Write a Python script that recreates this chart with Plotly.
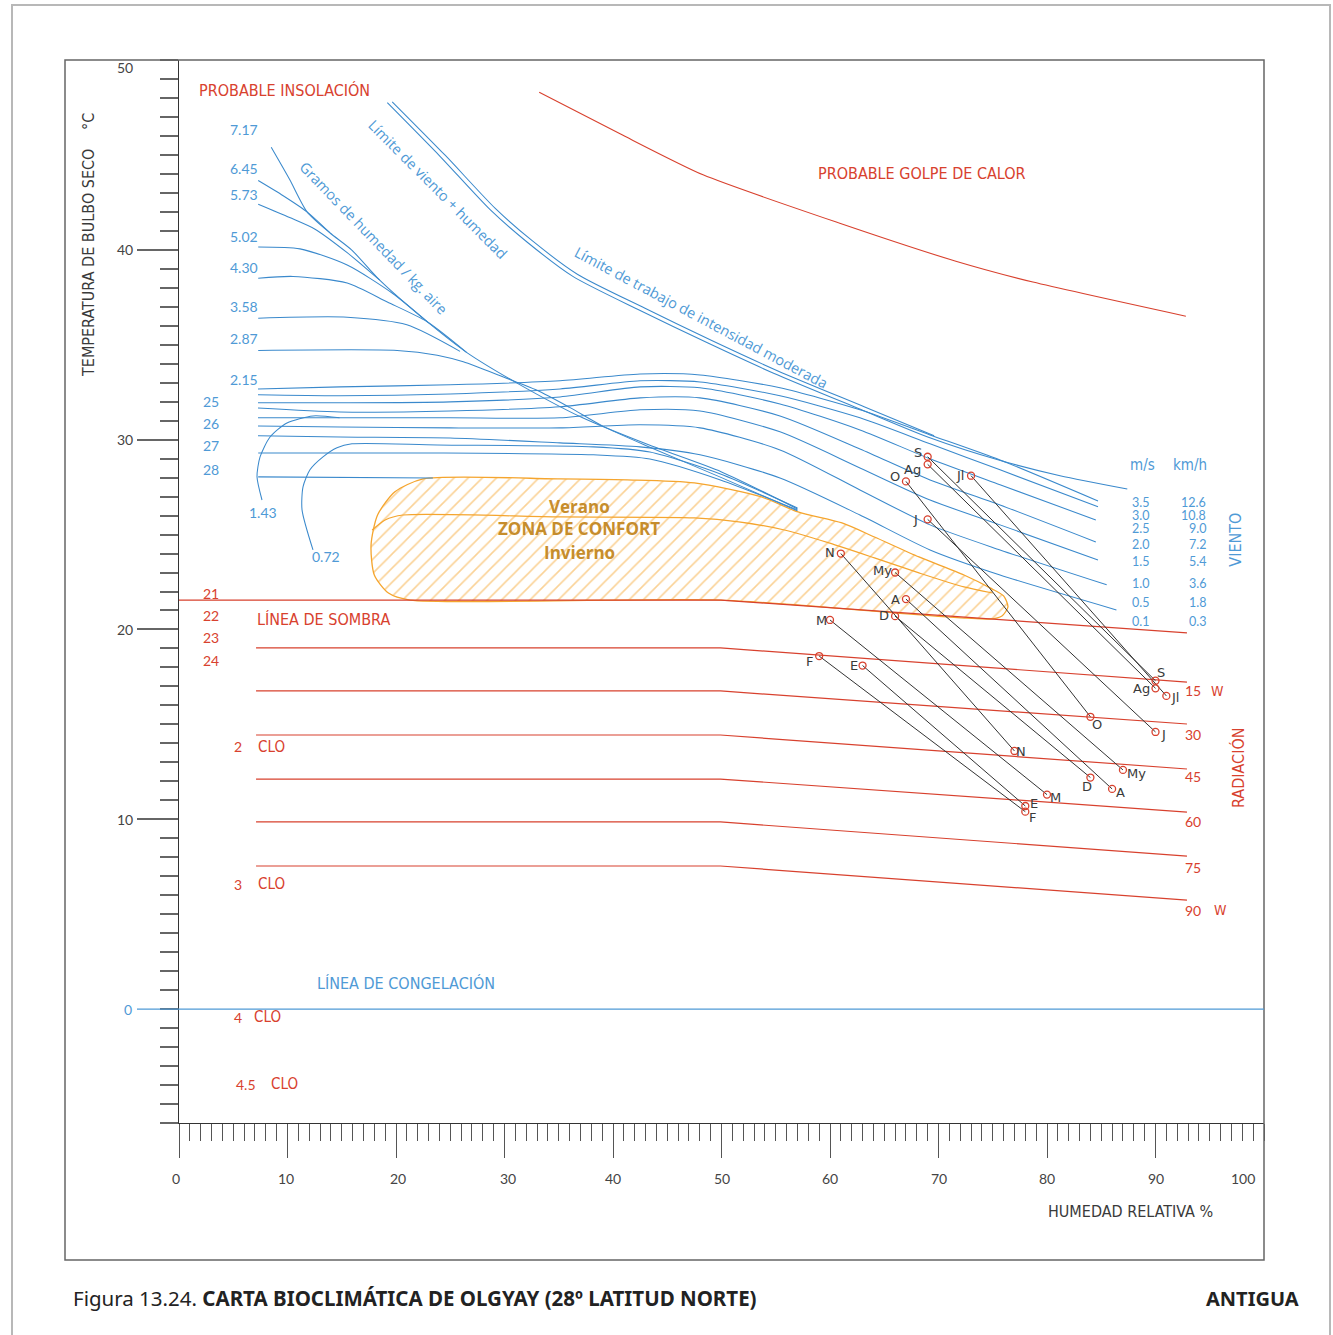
import plotly.graph_objects as go

# ---------------------------------------------------------------
# DATA  (x = humedad relativa %, y = temperatura de bulbo seco °C)
# ---------------------------------------------------------------
months = ["E", "F", "M", "A", "My", "J", "Jl", "Ag", "S", "O", "N", "D"]
rh_day = [63, 59, 60, 67, 66, 69, 73, 69, 69, 67, 61, 66]
t_day = [18.1, 18.6, 20.5, 21.6, 23.0, 25.8, 28.1, 28.7, 29.1, 27.8, 24.0, 20.7]
rh_night = [78, 78, 80, 86, 87, 90, 91, 90, 90, 84, 77, 84]
t_night = [10.7, 10.4, 11.3, 11.6, 12.6, 14.6, 16.5, 16.9, 17.3, 15.4, 13.6, 12.2]

# heat-stroke limit
heat_rh = [33.2, 40.65, 48.3, 60.9, 71.6, 78.7, 92.8]
heat_t = [48.3, 46.11, 43.95, 41.4, 39.4, 38.3, 36.5]

# limit of moderate work / wind + humidity (double line)
lim_rh = [19.2, 24.1, 28.7, 32.1, 36.3, 42.5, 48.7, 54.8, 62.8, 69.2, 75.7, 81.2, 87.4]
lim_t = [47.75, 44.9, 42.1, 40.4, 38.6, 36.8, 35.1, 33.5, 31.6, 30.1, 28.9, 28.1, 27.4]
lim2_rh = [19.65, 24.55, 29.15, 32.55, 36.75, 42.95, 49.1, 55.2, 63.2, 69.6]
lim2_t = [47.8, 44.97, 42.18, 40.48, 38.7, 36.92, 35.22, 33.62, 31.72, 30.2]

# moisture (g/kg) lines
hum_717_rh = [8.5, 10.2, 11.8, 13.9, 15.9, 18.5, 22.9, 26.5, 31.4, 37.2, 43.4, 50.0, 57.0]
hum_717_t = [45.4, 43.7, 42.0, 40.9, 40.0, 38.4, 36.2, 34.6, 32.9, 31.15, 29.7, 28.3, 26.35]
hum_645_rh = [7.3, 9.6, 11.8, 13.9]
hum_645_t = [43.65, 42.85, 42.0, 40.9]
hum_573_rh = [7.3, 10.2, 12.5, 15.5, 18.5]
hum_573_t = [42.4, 41.7, 41.1, 39.85, 38.4]
hum_502_rh = [7.3, 11.15, 15.5, 19.7, 22.9]
hum_502_t = [40.15, 40.05, 39.2, 37.7, 36.2]
hum_430_rh = [7.3, 10.5, 15.5, 19.2, 22.9, 26.5]
hum_430_t = [38.5, 38.6, 38.25, 37.25, 36.2, 34.6]
hum_358_rh = [7.3, 15.5, 21.0, 25.9]
hum_358_t = [36.4, 36.45, 36.05, 34.65]
hum_287_rh = [7.3, 20.1, 23.8, 26.2, 29.9, 33.0, 36.0, 39.1, 43.4, 50.0, 57.0]
hum_287_t = [34.7, 34.7, 34.45, 34.1, 33.3, 32.6, 31.7, 30.7, 29.6, 28.0, 26.25]
hum_143_rh = [7.65, 7.19, 7.47, 8.39, 9.95, 12.35, 14.8]
hum_143_t = [26.82, 28.04, 29.09, 30.14, 30.88, 31.25, 31.15]
hum_072_rh = [12.35, 11.34, 11.43, 12.07, 13.27, 14.56, 15.94, 23.8, 38.2, 43.4, 49.9, 57.0]
hum_072_t = [24.19, 26.30, 27.51, 28.41, 29.09, 29.57, 29.78, 29.72, 29.62, 29.35, 28.19, 26.4]
line27_rh = [7.3, 23.8, 38.2, 43.4, 49.9, 57.0]
line27_t = [29.3, 29.3, 29.2, 28.98, 27.88, 26.3]
line28_rh = [7.3, 23.4]
line28_t = [28.04, 27.98]

# wind lines (m/s)
wind_rh = [7.28, 14.84, 24.98, 35.12, 42.49, 48.02, 55.39, 62.76, 69.22, 75.67]
wind_end_rh = [84.7, 84.7, 84.5, 84.5, 84.7, 85.5, 86.4]
wind_t = {
    "3.5": [32.67, 32.78, 32.89, 33.10, 33.46, 33.41, 32.73, 31.57, 30.25, 28.93, 26.77],
    "3.0": [32.36, 32.31, 32.41, 32.67, 33.10, 33.04, 32.31, 31.15, 29.78, 28.41, 26.46],
    "2.5": [31.94, 31.94, 31.99, 32.25, 32.78, 32.73, 31.88, 30.51, 28.99, 27.62, 25.77],
    "2.0": [31.67, 31.46, 31.51, 31.73, 32.20, 32.20, 31.25, 29.51, 27.88, 26.56, 24.61],
    "1.5": [31.15, 31.15, 31.15, 31.15, 31.57, 31.51, 30.41, 28.51, 26.82, 25.51, 23.66],
    "1.0": [30.72, 30.67, 30.62, 30.62, 30.78, 30.62, 29.46, 27.35, 25.51, 24.19, 22.35],
    "0.5": [30.20, 30.14, 30.09, 29.83, 29.62, 29.20, 27.98, 26.03, 24.19, 22.87, 21.03],
}

# comfort zone
comfort_rh = [22.5, 35.1, 41.3, 47.5, 53.7, 57.05, 61.1, 64.1, 68.2, 72.35, 74.75, 76.0, 76.4,
              75.85, 74.75, 49.95, 21.3, 19.3, 18.0, 17.7, 18.3, 19.9, 22.5]
comfort_t = [27.93, 27.93, 27.88, 27.72, 26.98, 26.19, 25.61, 24.87, 23.82, 22.87, 22.19, 21.77, 21.19,
             20.71, 20.55, 21.55, 21.55, 21.92, 22.87, 24.45, 26.03, 27.25, 27.93]
divider_rh = [17.8, 19.0, 20.65, 35.1, 47.5, 51.6, 55.8, 59.9, 64.1, 68.2, 72.35, 75.0]
divider_t = [25.24, 25.77, 26.03, 25.93, 25.88, 25.67, 25.24, 24.56, 23.77, 22.98, 22.24, 21.92]

# shade line and radiation lines (W)
shade_rh = [0, 49.95, 92.9]
shade_t = [21.55, 21.55, 19.82]
rad_rh = [7.1, 49.9, 92.9]
rad_labels = ["15", "30", "45", "60", "75", "90"]
rad_left_t = [19.03, 16.76, 14.44, 12.12, 9.86, 7.54]
rad_right_t = [17.23, 15.02, 12.65, 10.38, 8.06, 5.74]

# tick / scale labels
x_ticks = [0, 10, 20, 30, 40, 50, 60, 70, 80, 90, 100]
y_ticks = [50, 40, 30, 20, 10, 0]
hum_labels = ["7.17", "6.45", "5.73", "5.02", "4.30", "3.58", "2.87", "2.15"]
hum_label_t = [46.32, 44.27, 42.90, 40.69, 39.05, 37.0, 35.31, 33.15]
temp_labels = ["25", "26", "27", "28"]
temp_label_t = [31.99, 30.83, 29.67, 28.41]
shade_labels = ["21", "22", "23", "24"]
shade_label_t = [21.92, 20.76, 19.60, 18.39]
wind_ms = ["3.5", "3.0", "2.5", "2.0", "1.5", "1.0", "0.5", "0.1"]
wind_kmh = ["12.6", "10.8", "9.0", "7.2", "5.4", "3.6", "1.8", "0.3"]
wind_label_t = [26.67, 25.98, 25.30, 24.45, 23.56, 22.40, 21.40, 20.40]
rad_label_t = [16.76, 14.49, 12.28, 9.86, 7.48, 5.22]

# ---------------------------------------------------------------
# STYLE
# ---------------------------------------------------------------
W, H = 1333, 1335
L, R, T, B = 179, 69, 60, 212
PW, PH = W - L - R, H - T - B


def px(xp):
    return (xp - L) / PW


def py(yp):
    return (H - B - yp) / PH


BLUE = "#3a89cc"
BLUE_T = "#4f9ad6"
RED = "#d8412e"
ORANGE = "#f5a52e"
GOLD = "#c68d2c"
INK = "#3a3a3a"
COND = "Liberation Sans Narrow, DejaVu Sans Condensed, Arial Narrow, sans-serif"
NUM = "Lato, DejaVu Sans, sans-serif"
HUM = "Open Sans, Noto Sans, sans-serif"

fig = go.Figure()


def curve(x, y, color, width=1.2, smooth=0.7):
    fig.add_trace(go.Scatter(
        x=x, y=y, mode="lines", hoverinfo="skip", showlegend=False,
        line=dict(color=color, width=width, shape="spline" if smooth else "linear",
                  smoothing=smooth if smooth else None)))


# comfort zone (hatched)
fig.add_trace(go.Scatter(
    x=comfort_rh, y=comfort_t, mode="lines", fill="toself", hoverinfo="skip", showlegend=False,
    fillcolor="rgba(0,0,0,0)",
    fillpattern=dict(shape="/", size=10, solidity=0.16, fgcolor=ORANGE, bgcolor="rgba(0,0,0,0)"),
    line=dict(color=ORANGE, width=1.3, shape="spline", smoothing=0.7)))
curve(divider_rh, divider_t, ORANGE, 1.2)

# blue lines
for xs, ys in [(hum_717_rh, hum_717_t), (hum_645_rh, hum_645_t), (hum_573_rh, hum_573_t),
               (hum_502_rh, hum_502_t), (hum_430_rh, hum_430_t), (hum_358_rh, hum_358_t),
               (hum_287_rh, hum_287_t), (hum_143_rh, hum_143_t), (hum_072_rh, hum_072_t),
               (line27_rh, line27_t), (line28_rh, line28_t),
               (lim_rh, lim_t), (lim2_rh, lim2_t)]:
    curve(xs, ys, BLUE, 1.05)
for i, (k, ts) in enumerate(wind_t.items()):
    curve(wind_rh + [wind_end_rh[i]], ts, BLUE, 1.05)

# red lines
curve(heat_rh, heat_t, RED, 1.1, smooth=0.6)
curve(shade_rh, shade_t, RED, 1.2, smooth=0)
for lt, rt in zip(rad_left_t, rad_right_t):
    curve(rad_rh, [lt, lt, rt], RED, 1.2, smooth=0)

# monthly lines
lx, ly = [], []
for a, b, c, d in zip(rh_day, t_day, rh_night, t_night):
    lx += [a, c, None]
    ly += [b, d, None]
fig.add_trace(go.Scatter(x=lx, y=ly, mode="lines", line=dict(color="#333333", width=1),
                         hoverinfo="skip", showlegend=False))
fig.add_trace(go.Scatter(x=rh_day + rh_night, y=t_day + t_night, mode="markers", hoverinfo="skip",
                         showlegend=False,
                         marker=dict(symbol="circle-open", size=7, color=RED, line=dict(width=1.3))))

# ---------------------------------------------------------------
# TEXT
# ---------------------------------------------------------------
def txt(x, y, s, color, size, family, xanchor="center", yanchor="middle", angle=0,
        xref="x", yref="y", xshift=0, yshift=0):
    fig.add_annotation(x=x, y=y, text=s, xref=xref, yref=yref, showarrow=False,
                       font=dict(color=color, size=size, family=family),
                       xanchor=xanchor, yanchor=yanchor, textangle=angle,
                       xshift=xshift, yshift=yshift, borderpad=0)


up_off = {"E": (-9, 0), "F": (-10, 5), "M": (-9, 1), "A": (-10, 0), "My": (-13, -2), "J": (-12, 0),
          "Jl": (-11, 0), "Ag": (-15, 5), "S": (-10, -4), "O": (-11, -5), "N": (-11, -1), "D": (-11, -1)}
lo_off = {"E": (9, -3), "F": (7, 6), "M": (8, 3), "A": (8, 4), "My": (14, 4), "J": (8, 3),
          "Jl": (9, 2), "Ag": (-14, 0), "S": (5, -8), "O": (7, 8), "N": (7, 1), "D": (-3, 9)}
for m, a, b, c, d in zip(months, rh_day, t_day, rh_night, t_night):
    txt(a, b, m, INK, 13, "DejaVu Sans, sans-serif", xshift=up_off[m][0], yshift=-up_off[m][1])
    txt(c, d, m, INK, 13, "DejaVu Sans, sans-serif", xshift=lo_off[m][0], yshift=-lo_off[m][1])

# red texts
txt(1.75, 48.38, "PROBABLE INSOLACIÓN", RED, 16, COND, xanchor="left")
txt(68.5, 44.0, "PROBABLE GOLPE DE CALOR", RED, 16, COND)
txt(7.1, 20.55, "LÍNEA DE SOMBRA", RED, 16, COND, xanchor="left")
for s, t in zip(shade_labels, shade_label_t):
    txt(2.95, t, s, RED, 14, NUM)
for num, numx, clox, t in [("2", 5.9, 7.19, 13.81), ("3", 5.9, 7.19, 6.59),
                           ("4", 5.9, 6.82, -0.42), ("4.5", 7.19, 8.39, -3.95)]:
    txt(numx, t, num, RED, 14, NUM, xanchor="right")
    txt(clox, t, "CLO", RED, 15, COND, xanchor="left")
for s, t in zip(rad_labels, rad_label_t):
    txt(92.6, t, s, RED, 14, NUM, xanchor="left")
txt(95.0, rad_label_t[0], "W", RED, 14, COND, xanchor="left")
txt(95.3, rad_label_t[-1], "W", RED, 14, COND, xanchor="left")
txt(97.6, 12.7, "RADIACIÓN", RED, 16, COND, angle=-90)

# blue texts
for s, t in zip(hum_labels, hum_label_t):
    txt(4.6, t, s, BLUE_T, 14, NUM, xanchor="left")
for s, t in zip(temp_labels, temp_label_t):
    txt(2.95, t, s, BLUE_T, 14, NUM)
txt(7.74, 26.14, "1.43", BLUE_T, 14, NUM)
txt(13.55, 23.87, "0.72", BLUE_T, 14, NUM)
txt(17.88, 40.63, "Gramos de humedad / kg. aire", BLUE_T, 14.5, HUM, angle=46)
txt(23.87, 43.16, "Límite de viento + humedad", BLUE_T, 14.5, HUM, angle=45)
txt(48.11, 36.42, "Límite de trabajo de intensidad moderada", BLUE_T, 14.5, HUM, angle=28)
txt(12.63, 1.37, "LÍNEA DE CONGELACIÓN", BLUE_T, 16, COND, xanchor="left")
txt(88.76, 28.67, "m/s", BLUE_T, 15, COND)
txt(93.18, 28.67, "km/h", BLUE_T, 15, COND)
for a, b, t in zip(wind_ms, wind_kmh, wind_label_t):
    txt(88.66, t, a, BLUE_T, 12.5, NUM)
    txt(94.75, t, b, BLUE_T, 12.5, NUM, xanchor="right")
txt(97.4, 24.72, "VIENTO", BLUE_T, 16, COND, angle=-90)

# comfort zone text
txt(36.87, 26.46, "<b>Verano</b>", GOLD, 17, HUM)
txt(36.87, 25.30, "<b>ZONA DE CONFORT</b>", GOLD, 17, HUM)
txt(36.87, 24.08, "<b>Invierno</b>", GOLD, 17, HUM)

# axis labels
for v in y_ticks:
    if v == 50:
        txt(px(134), py(68), str(v), "#444", 14, NUM, xanchor="right", xref="paper", yref="paper")
    elif v == 0:
        txt(px(133), 0, str(v), BLUE_T, 14, NUM, xanchor="right", xref="paper")
    else:
        txt(px(134), v, str(v), "#444", 14, NUM, xanchor="right", xref="paper")
for v in x_ticks:
    sh = {0: -3, 10: -2, 20: 2, 30: 3, 100: -21}.get(v, 0)
    txt(v, py(1178), str(v), "#444", 14, NUM, yref="paper", xshift=sh)
txt(px(89), py(263), "TEMPERATURA DE BULBO SECO", INK, 16, COND, angle=-90, xref="paper", yref="paper")
txt(px(89), py(122), "°C", INK, 16, COND, angle=-90, xref="paper", yref="paper")
txt(px(1130), py(1211), "HUMEDAD RELATIVA %", INK, 16, COND, xref="paper", yref="paper")

# caption
txt(px(72), py(1298), "Figura 13.24. <b>CARTA BIOCLIMÁTICA DE OLGYAY (28º LATITUD NORTE)</b>",
    "#222", 20.5, "Noto Sans, Open Sans, sans-serif", xanchor="left", xref="paper", yref="paper")
txt(px(1300), py(1298), "<b>ANTIGUA</b>", "#222", 20, "Noto Sans, Open Sans, sans-serif",
    xanchor="right", xref="paper", yref="paper")

# ---------------------------------------------------------------
# LAYOUT
# ---------------------------------------------------------------
fig.update_layout(
    width=W, height=H, margin=dict(l=L, r=R, t=T, b=B),
    paper_bgcolor="white", plot_bgcolor="white", showlegend=False,
    xaxis=dict(range=[0, 100], showgrid=False, zeroline=False, showline=True, linecolor="#333",
               linewidth=1.2, ticks="outside", tickmode="array", tickvals=x_ticks[:-1], ticklen=34,
               tickcolor="#555", tickwidth=1.2, showticklabels=False, fixedrange=True,
               minor=dict(ticks="outside", tickmode="linear", tick0=0, dtick=1, ticklen=17,
                          tickcolor="#555", tickwidth=1.2)),
    yaxis=dict(range=[-6, 50], showgrid=False, zeroline=False, showline=True, linecolor="#333",
               linewidth=1.2, ticks="outside", tickmode="array", tickvals=[10, 20, 30, 40], ticklen=41,
               tickcolor="#666", tickwidth=1.5, showticklabels=False, fixedrange=True,
               minor=dict(ticks="outside", tickmode="linear", tick0=0, dtick=1, ticklen=18,
                          tickcolor="#666", tickwidth=1.5)),
    shapes=[
        dict(type="rect", xref="paper", yref="paper", x0=px(12), x1=px(1330), y0=py(1345), y1=py(5),
             line=dict(color="#b8b8b8", width=2), layer="below"),
        dict(type="rect", xref="paper", yref="paper", x0=px(65), x1=px(1264), y0=py(1260), y1=py(60),
             line=dict(color="#666", width=1.5), layer="above"),
        dict(type="line", xref="paper", yref="y", x0=px(137), x1=1, y0=0, y1=0,
             line=dict(color=BLUE_T, width=1.4)),
    ],
)

fig.write_html("out.html")
